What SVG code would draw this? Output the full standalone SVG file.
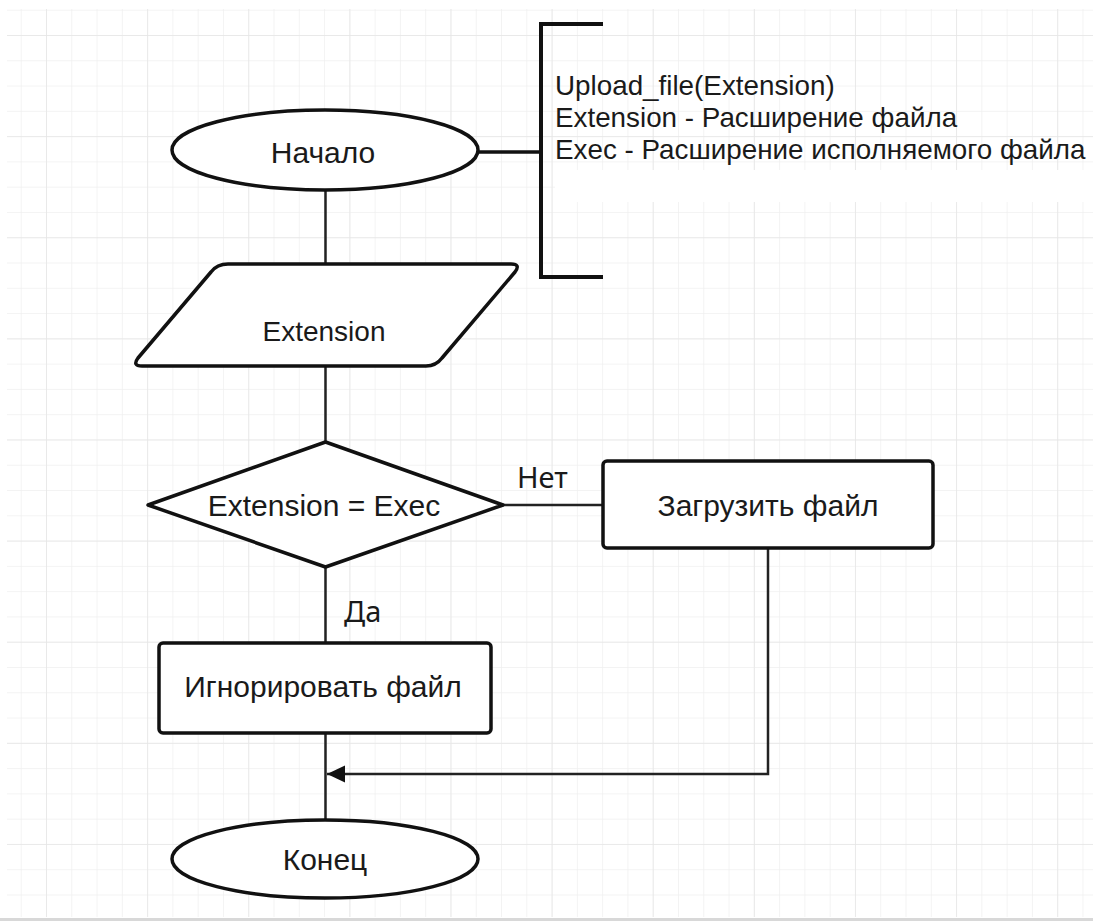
<svg xmlns="http://www.w3.org/2000/svg" width="1093" height="922" viewBox="0 0 1093 922">
<style>
.shape{fill:#ffffff;stroke:#111111;stroke-width:3.5;stroke-linejoin:round}
.conn{fill:none;stroke:#222222;stroke-width:2.5}
.lbl{font-family:"Liberation Sans",Arial,sans-serif;font-size:30px;fill:#1a1a1a;text-anchor:middle}
.note{font-family:"Liberation Sans",Arial,sans-serif;font-size:27.8px;fill:#1a1a1a}
.edge{font-family:"Noto Sans","Open Sans",sans-serif;font-size:29px;fill:#1a1a1a}
</style>
<defs>
<pattern id="minor" patternUnits="userSpaceOnUse" x="46" y="35" width="25.28" height="25.28">
<path d="M0 0V25.28M0 0H25.28" fill="none" stroke="#f0f0f0" stroke-width="1.5"/>
</pattern>
<pattern id="major" patternUnits="userSpaceOnUse" x="46" y="35" width="101.12" height="101.12">
<path d="M0 0V101.12M0 0H101.12" fill="none" stroke="#e6e6e6" stroke-width="1.5"/>
</pattern>
<marker id="arrow" markerUnits="userSpaceOnUse" markerWidth="20" markerHeight="20" refX="18" refY="9" orient="auto">
<path d="M0 0.5L18 9L0 17.5Z" fill="#111111"/>
</marker>
</defs>
<rect width="1093" height="922" fill="#ffffff"/>
<g id="grid">
<rect x="7" y="9" width="1086" height="908" fill="url(#minor)"/>
<rect x="7" y="9" width="1086" height="908" fill="url(#major)"/>
<rect x="555" y="170" width="538" height="32" fill="#ffffff"/>
<line x1="0" y1="919.5" x2="1093" y2="919.5" stroke="#d8d8d8" stroke-width="3"/>
</g>
<g id="connectors">
<line class="conn" x1="325.5" y1="190" x2="325.5" y2="264"/>
<line class="conn" x1="325.5" y1="366" x2="325.5" y2="442"/>
<line class="conn" x1="325.5" y1="567" x2="325.5" y2="643"/>
<line class="conn" x1="503" y1="505" x2="603" y2="505"/>
<line class="conn" x1="325.5" y1="733" x2="325.5" y2="820"/>
<polyline class="conn" points="768,548 768,774 327,774" marker-end="url(#arrow)"/>
<line x1="478" y1="152" x2="541" y2="152" stroke="#111111" stroke-width="3.5"/>
<text class="edge" x="517" y="488">Нет</text>
<text class="edge" x="344" y="622">Да</text>
</g>
<g id="start">
<ellipse class="shape" cx="325" cy="150" rx="153" ry="40"/>
<text class="lbl" x="323" y="163">Начало</text>
</g>
<g id="note">
<polyline points="603,24 541,24 541,277 603,277" fill="none" stroke="#111111" stroke-width="4"/>
<text class="note" x="555" y="95">Upload_file(Extension)</text>
<text class="note" x="555" y="127">Extension - Расширение файла</text>
<text class="note" x="555" y="159">Exec - Расширение исполняемого файла</text>
</g>
<g id="input">
<path class="shape" d="M228 264H511Q521 264 515 272L442 358Q436 366 426 366H142Q132 366 138 358L211 272Q217 264 228 264Z"/>
<text class="lbl" x="324" y="341" style="font-size:28px">Extension</text>
</g>
<g id="decision">
<polygon class="shape" points="325.5,442 503,505 325.5,567 148,505"/>
<text class="lbl" x="324" y="516">Extension = Exec</text>
</g>
<g id="upload">
<rect class="shape" x="603" y="461" width="330" height="87" rx="4"/>
<text class="lbl" x="768" y="516">Загрузить файл</text>
</g>
<g id="ignore">
<rect class="shape" x="159" y="643" width="332" height="90" rx="4"/>
<text class="lbl" x="323" y="697">Игнорировать файл</text>
</g>
<g id="end">
<ellipse class="shape" cx="325" cy="859" rx="153" ry="39"/>
<text class="lbl" x="325" y="870">Конец</text>
</g>
</svg>
